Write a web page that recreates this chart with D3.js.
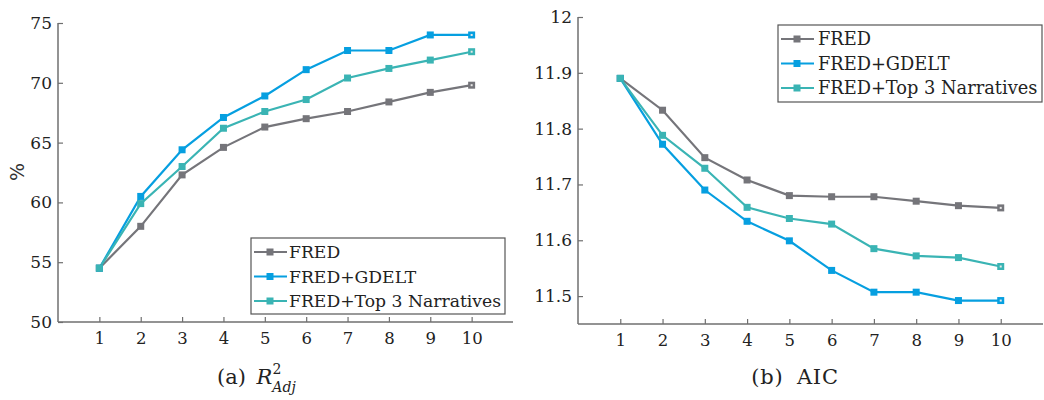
<!DOCTYPE html>
<html><head><meta charset="utf-8">
<script src="https://cdn.jsdelivr.net/npm/d3@7"></script>
<style>
body{margin:0;background:#fff;}
svg{display:block;}
</style></head>
<body><svg id="c" width="1044" height="400"></svg>
<script>
const steps = [1,2,3,4,5,6,7,8,9,10];
const seriesNames = ["FRED","FRED+GDELT","FRED+Top 3 Narratives"];
const colors = ["#75757a","#069fe0","#3ab4b4"];
const r2FRED   = [54.5,58.0,62.3,64.6,66.3,67.0,67.6,68.4,69.2,69.8];
const r2GDELT  = [54.5,60.5,64.4,67.1,68.9,71.1,72.7,72.7,74.0,74.0];
const r2Narr   = [54.5,59.9,63.0,66.2,67.6,68.6,70.4,71.2,71.9,72.6];
const aicFRED  = [11.89,11.833,11.748,11.708,11.680,11.678,11.678,11.670,11.662,11.658];
const aicGDELT = [11.89,11.772,11.690,11.634,11.599,11.546,11.507,11.507,11.492,11.492];
const aicNarr  = [11.89,11.788,11.729,11.659,11.639,11.629,11.585,11.572,11.569,11.553];
const r2Ticks  = [50,55,60,65,70,75];
const aicTicks = [11.5,11.6,11.7,11.8,11.9,12];

const FONT = "DejaVu Serif";
const svg = d3.select("#c");
const axisColor = "#6f6f6f";

function panel(cfg){
  const g = svg.append("g");
  const x = d3.scaleLinear().domain([0,11]).range([cfg.x0,cfg.x1]);
  const y = d3.scaleLinear().domain(cfg.ydom).range([cfg.y1,cfg.y0]);
  g.append("line").attr("x1",cfg.x0).attr("x2",cfg.x0).attr("y1",y(cfg.ydom[1])).attr("y2",cfg.y1)
    .attr("stroke",axisColor).attr("stroke-width",1.5);
  g.append("line").attr("x1",cfg.x0).attr("x2",cfg.x1).attr("y1",cfg.y1).attr("y2",cfg.y1)
    .attr("stroke",axisColor).attr("stroke-width",1.5);
  const xa = d3.axisBottom(x).tickValues(steps).tickSize(-5).tickPadding(10).tickFormat(d3.format("d"));
  const gx = g.append("g").attr("transform",`translate(0,${cfg.y1})`).call(xa);
  gx.attr("font-family",FONT).attr("font-size",16.5);
  gx.select(".domain").remove();
  gx.selectAll("line").attr("stroke",axisColor).attr("stroke-width",1.2);
  gx.selectAll("text").attr("fill","#222");
  const ya = d3.axisLeft(y).tickValues(cfg.ticks).tickSize(-5).tickPadding(6).tickFormat(cfg.fmt);
  const gy = g.append("g").attr("transform",`translate(${cfg.x0},0)`).call(ya);
  gy.attr("font-family",FONT).attr("font-size",17);
  gy.select(".domain").remove();
  gy.selectAll("line").attr("stroke",axisColor).attr("stroke-width",1.2);
  gy.selectAll("text").attr("fill","#222");
  const line = d3.line().x((d,i)=>x(steps[i])).y(d=>y(d));
  cfg.data.forEach((arr,k)=>{
    g.append("path").datum(arr).attr("d",line).attr("fill","none")
      .attr("stroke",colors[k]).attr("stroke-width",2.2);
  });
  cfg.data.forEach((arr,k)=>{
    g.selectAll(null).data(arr).enter().append("rect")
      .attr("x",(d,i)=>x(steps[i])-3.5).attr("y",d=>y(d)-3.5)
      .attr("width",7).attr("height",7).attr("fill",colors[k]);
    const last = arr[arr.length-1];
    g.append("rect").attr("x",x(steps[steps.length-1])-1).attr("y",y(last)-1)
      .attr("width",2).attr("height",2).attr("fill","#e8e8e8");
  });
  const L = cfg.legend;
  g.append("rect").attr("x",L.x).attr("y",L.y).attr("width",L.w).attr("height",L.h)
    .attr("fill","#fff").attr("stroke","#555").attr("stroke-width",1.2);
  seriesNames.forEach((n,k)=>{
    const yy = L.y + 14 + k*24.5;
    g.append("line").attr("x1",L.x+3).attr("x2",L.x+36).attr("y1",yy).attr("y2",yy)
      .attr("stroke",colors[k]).attr("stroke-width",2.2);
    g.append("rect").attr("x",L.x+19-3.5).attr("y",yy-3.5).attr("width",7).attr("height",7).attr("fill",colors[k]);
    g.append("text").attr("x",L.x+L.tx).attr("y",yy+6).attr("font-family",FONT).attr("font-size",L.fs)
      .attr("fill","#222").text(n);
  });
  return {g,x,y};
}

panel({x0:58,x1:513,y0:23,y1:322,ydom:[50,75],ticks:r2Ticks,fmt:d3.format("d"),
  data:[r2FRED,r2GDELT,r2Narr], legend:{x:251,y:238,w:254,h:76,fs:17.2,tx:38}});
panel({x0:578,x1:1043,y0:17,y1:324,ydom:[11.45,12],ticks:aicTicks,fmt:d=>d===12?"12":d3.format(".1f")(d),
  data:[aicFRED,aicGDELT,aicNarr], legend:{x:778,y:25,w:264,h:77,fs:17.8,tx:40}});

svg.append("text").attr("transform","translate(24,172) rotate(-90)").attr("text-anchor","middle")
  .attr("font-family","DejaVu Sans, sans-serif").attr("font-size",19).attr("fill","#333").text("%");

const c1 = svg.append("text").attr("x",217).attr("y",384).attr("font-family",FONT).attr("font-size",21)
  .attr("fill","#222").attr("word-spacing",4);
c1.append("tspan").text("(a) ");
c1.append("tspan").attr("font-style","italic").text("R");
c1.append("tspan").attr("font-size",14).attr("dy",-10).text("2");
c1.append("tspan").attr("font-size",14).attr("font-style","italic").attr("dx",-9).attr("dy",18).text("Adj");
svg.append("text").attr("x",795).attr("y",384).attr("text-anchor","middle").attr("font-family",FONT)
  .attr("font-size",21).attr("word-spacing",6).attr("letter-spacing",0.8).attr("fill","#222").text("(b) AIC");
</script></body></html>
